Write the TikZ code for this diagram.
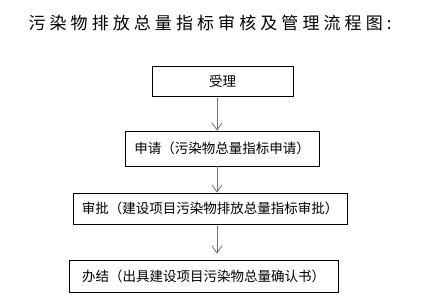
\documentclass[tikz,border=0pt]{standalone}
\usepackage{fontspec}
\newfontfamily\cjk{Noto Sans CJK SC}
\newfontfamily\cjktitle[LetterSpace=24]{Noto Sans CJK SC}
\usepackage{tikz}
\usetikzlibrary{positioning, arrows.meta}

\begin{document}
\begin{tikzpicture}[
  x=1pt, y=-1pt,
  font=\cjk\fontsize{13.5pt}{15pt}\selectfont,
  stepbox/.style={rectangle, draw=black, line width=0.8pt, fill=white,
                  align=center, inner sep=0pt},
  arr/.style={-{Straight Barb[length=7pt, width=10pt, line width=0.8pt]},
              draw=black!55, line width=1pt}
]
\useasboundingbox (0,0) rectangle (442,301);
\node[anchor=west, font=\cjktitle\fontsize{17pt}{20pt}\selectfont] (title) at (25,23)
  {污染物排放总量指标审核及管理流程图:};
\node[stepbox, minimum width=141pt, minimum height=30pt] (shouli) at (222.5,81) {受理};
\node[stepbox, minimum width=194pt, minimum height=35pt] (shenqing) at (222,148.5)
  {申请（污染物总量指标申请）};
\node[stepbox, minimum width=274pt, minimum height=31pt] (shenpi) at (210,208.5)
  {审批（建设项目污染物排放总量指标审批）};
\node[stepbox, minimum width=269pt, minimum height=32pt] (banjie) at (203.5,276)
  {办结（出具建设项目污染物总量确认书）};
\draw[arr] ([xshift=-5.5pt, yshift=-2pt]shouli.south) -- ([xshift=-5.5pt]shouli.south |- shenqing.north);
\draw[arr] ([xshift=-5pt]shenqing.south) -- ([xshift=-5pt]shenqing.south |- shenpi.north);
\draw[arr] ([xshift=7pt, yshift=-2pt]shenpi.south) -- ([xshift=7pt, yshift=6pt]shenpi.south |- banjie.north);
\end{tikzpicture}
\end{document}
